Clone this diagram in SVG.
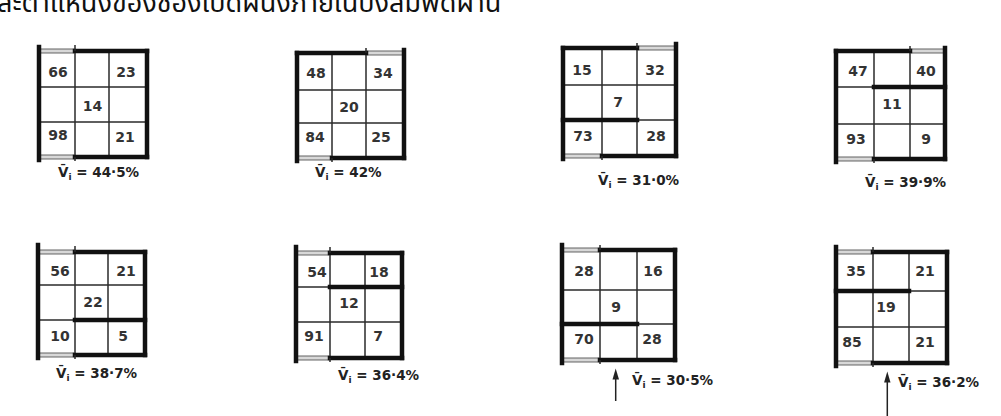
<svg xmlns="http://www.w3.org/2000/svg" width="1001" height="416" viewBox="0 0 1001 416">
<style>
.t{stroke:#2a2a2a;stroke-width:1.5;fill:none}
.k{stroke:#111;stroke-width:4.5;stroke-linecap:square;fill:none}
.w{fill:#d8d8d8;stroke:#555;stroke-width:0.9}
.n{font-family:"DejaVu Sans",sans-serif;font-size:14px;font-weight:bold;fill:#333;text-anchor:middle}
.l{font-family:"DejaVu Sans",sans-serif;font-size:13.5px;font-weight:bold;fill:#222}
.s{font-size:9px}
.hd{font-family:"Noto Sans Thai","Noto Sans","DejaVu Sans",sans-serif;font-size:27px;fill:#111}
</style>
<rect width="1001" height="416" fill="#fff"/>
<text class="hd" x="-3" y="12">ละตำแหน่งของช่องเปิดผนังภายในบังลมพัดผ่าน</text>

<g id="grid1">
<line class="t" x1="75" y1="51" x2="75" y2="157"/><line class="t" x1="109" y1="51" x2="109" y2="157"/>
<line class="t" x1="39" y1="87" x2="147" y2="87"/><line class="t" x1="39" y1="122" x2="147" y2="122"/>
<rect class="w" x="39" y="49" width="36" height="4"/><rect class="w" x="39" y="155" width="36" height="4"/>
<line class="k" x1="39" y1="47" x2="39" y2="160"/><line class="k" x1="147" y1="51" x2="147" y2="157"/>
<line class="k" x1="75" y1="51" x2="147" y2="51"/><line class="k" x1="75" y1="157" x2="147" y2="157"/>
<line class="t" x1="75" y1="45" x2="75" y2="51"/><line class="t" x1="75" y1="157" x2="75" y2="161"/>
<text class="n" x="58" y="77">66</text><text class="n" x="126" y="77">23</text><text class="n" x="92.5" y="111">14</text><text class="n" x="58" y="140">98</text><text class="n" x="125" y="142">21</text>
<text class="l" x="58" y="177">V̄<tspan class="s" dy="3">i</tspan><tspan dy="-3"> = 44·5%</tspan></text>
</g>

<g id="grid2">
<line class="t" x1="332" y1="53" x2="332" y2="158"/><line class="t" x1="366" y1="53" x2="366" y2="158"/>
<line class="t" x1="297" y1="90" x2="404" y2="90"/><line class="t" x1="297" y1="123" x2="404" y2="123"/>
<rect class="w" x="366" y="51" width="38" height="4"/><rect class="w" x="297" y="156" width="35" height="4"/>
<line class="k" x1="297" y1="53" x2="297" y2="161"/><line class="k" x1="404" y1="50" x2="404" y2="158"/>
<line class="k" x1="297" y1="53" x2="366" y2="53"/><line class="k" x1="332" y1="158" x2="404" y2="158"/>
<line class="t" x1="366" y1="48" x2="366" y2="53"/><line class="t" x1="332" y1="158" x2="332" y2="162"/>
<text class="n" x="316" y="78">48</text><text class="n" x="383" y="78">34</text><text class="n" x="349" y="112">20</text><text class="n" x="315" y="142">84</text><text class="n" x="381" y="142">25</text>
<text class="l" x="315" y="177">V̄<tspan class="s" dy="3">i</tspan><tspan dy="-3">  = 42%</tspan></text>
</g>

<g id="grid3">
<line class="t" x1="75" y1="252" x2="75" y2="355"/><line class="t" x1="108" y1="252" x2="108" y2="355"/>
<line class="t" x1="38" y1="285" x2="145" y2="285"/><line class="t" x1="38" y1="320" x2="145" y2="320"/>
<rect class="w" x="38" y="250" width="37" height="4"/><rect class="w" x="38" y="353" width="37" height="4"/>
<line class="k" x1="38" y1="245" x2="38" y2="358"/><line class="k" x1="145" y1="252" x2="145" y2="355"/>
<line class="k" x1="75" y1="252" x2="145" y2="252"/><line class="k" x1="75" y1="355" x2="145" y2="355"/>
<line class="k" x1="75" y1="320" x2="145" y2="320"/>
<line class="t" x1="75" y1="246" x2="75" y2="252"/><line class="t" x1="75" y1="355" x2="75" y2="359"/>
<text class="n" x="60" y="276">56</text><text class="n" x="126" y="276">21</text><text class="n" x="93" y="307">22</text><text class="n" x="60" y="341">10</text><text class="n" x="123" y="341">5</text>
<text class="l" x="56" y="378">V̄<tspan class="s" dy="3">i</tspan><tspan dy="-3">  =  38·7%</tspan></text>
</g>

<g id="grid4">
<line class="t" x1="330" y1="253" x2="330" y2="358"/><line class="t" x1="365" y1="253" x2="365" y2="358"/>
<line class="t" x1="296" y1="287" x2="402" y2="287"/><line class="t" x1="296" y1="322" x2="402" y2="322"/>
<rect class="w" x="296" y="251" width="34" height="4"/><rect class="w" x="296" y="356" width="34" height="4"/>
<line class="k" x1="296" y1="247" x2="296" y2="361"/><line class="k" x1="402" y1="253" x2="402" y2="358"/>
<line class="k" x1="330" y1="253" x2="402" y2="253"/><line class="k" x1="330" y1="358" x2="402" y2="358"/>
<line class="k" x1="330" y1="287" x2="402" y2="287"/>
<line class="t" x1="330" y1="247" x2="330" y2="253"/><line class="t" x1="330" y1="358" x2="330" y2="362"/>
<text class="n" x="317" y="277">54</text><text class="n" x="379" y="277">18</text><text class="n" x="349" y="308">12</text><text class="n" x="314" y="341">91</text><text class="n" x="378" y="341">7</text>
<text class="l" x="338" y="380">V̄<tspan class="s" dy="3">i</tspan><tspan dy="-3"> = 36·4%</tspan></text>
</g>

<g id="grid5">
<line class="t" x1="602" y1="48" x2="602" y2="156"/><line class="t" x1="637" y1="48" x2="637" y2="156"/>
<line class="t" x1="563" y1="85" x2="676" y2="85"/><line class="t" x1="563" y1="120" x2="676" y2="120"/>
<rect class="w" x="637" y="46" width="39" height="4"/><rect class="w" x="563" y="154" width="39" height="4"/>
<line class="k" x1="563" y1="48" x2="563" y2="159"/><line class="k" x1="676" y1="44" x2="676" y2="156"/>
<line class="k" x1="563" y1="48" x2="637" y2="48"/><line class="k" x1="602" y1="156" x2="676" y2="156"/>
<line class="k" x1="563" y1="120" x2="637" y2="120"/>
<line class="t" x1="637" y1="43" x2="637" y2="48"/><line class="t" x1="602" y1="156" x2="602" y2="160"/>
<text class="n" x="582" y="75">15</text><text class="n" x="655" y="75">32</text><text class="n" x="618" y="107">7</text><text class="n" x="583" y="141">73</text><text class="n" x="656" y="141">28</text>
<text class="l" x="598" y="185">V̄<tspan class="s" dy="3">i</tspan><tspan dy="-3"> = 31·0%</tspan></text>
</g>

<g id="grid6">
<line class="t" x1="874" y1="51" x2="874" y2="159"/><line class="t" x1="910" y1="51" x2="910" y2="159"/>
<line class="t" x1="836" y1="87" x2="945" y2="87"/><line class="t" x1="836" y1="124" x2="945" y2="124"/>
<rect class="w" x="910" y="49" width="35" height="4"/><rect class="w" x="836" y="157" width="38" height="4"/>
<line class="k" x1="836" y1="51" x2="836" y2="162"/><line class="k" x1="945" y1="48" x2="945" y2="159"/>
<line class="k" x1="836" y1="51" x2="910" y2="51"/><line class="k" x1="874" y1="159" x2="945" y2="159"/>
<line class="k" x1="874" y1="87" x2="945" y2="87"/>
<line class="t" x1="910" y1="46" x2="910" y2="51"/><line class="t" x1="874" y1="159" x2="874" y2="163"/>
<text class="n" x="858" y="76">47</text><text class="n" x="926" y="76">40</text><text class="n" x="892" y="109">11</text><text class="n" x="856" y="144">93</text><text class="n" x="926" y="144">9</text>
<text class="l" x="865" y="187">V̄<tspan class="s" dy="3">i</tspan><tspan dy="-3"> = 39·9%</tspan></text>
</g>

<g id="grid7">
<line class="t" x1="600" y1="250" x2="600" y2="360"/><line class="t" x1="637" y1="250" x2="637" y2="360"/>
<line class="t" x1="562" y1="290" x2="675" y2="290"/><line class="t" x1="562" y1="324" x2="675" y2="324"/>
<rect class="w" x="562" y="248" width="38" height="4"/><rect class="w" x="562" y="358" width="38" height="4"/>
<line class="k" x1="562" y1="245" x2="562" y2="363"/><line class="k" x1="675" y1="250" x2="675" y2="360"/>
<line class="k" x1="600" y1="250" x2="675" y2="250"/><line class="k" x1="600" y1="360" x2="675" y2="360"/>
<line class="k" x1="562" y1="324" x2="637" y2="324"/>
<line class="t" x1="600" y1="245" x2="600" y2="250"/><line class="t" x1="600" y1="360" x2="600" y2="364"/>
<text class="n" x="584" y="276">28</text><text class="n" x="653" y="276">16</text><text class="n" x="616" y="312">9</text><text class="n" x="584" y="344">70</text><text class="n" x="652" y="344">28</text>
<text class="l" x="632" y="385">V̄<tspan class="s" dy="3">i</tspan><tspan dy="-3"> = 30·5%</tspan></text>
</g>

<g id="grid8">
<line class="t" x1="873" y1="252" x2="873" y2="363"/><line class="t" x1="909" y1="252" x2="909" y2="363"/>
<line class="t" x1="836" y1="291" x2="947" y2="291"/><line class="t" x1="836" y1="327" x2="947" y2="327"/>
<rect class="w" x="836" y="250" width="37" height="4"/><rect class="w" x="836" y="361" width="37" height="4"/>
<line class="k" x1="836" y1="247" x2="836" y2="366"/><line class="k" x1="947" y1="252" x2="947" y2="363"/>
<line class="k" x1="873" y1="252" x2="947" y2="252"/><line class="k" x1="873" y1="363" x2="947" y2="363"/>
<line class="k" x1="836" y1="291" x2="909" y2="291"/>
<line class="t" x1="873" y1="247" x2="873" y2="252"/><line class="t" x1="873" y1="363" x2="873" y2="367"/>
<text class="n" x="856" y="276">35</text><text class="n" x="925" y="276">21</text><text class="n" x="886" y="312">19</text><text class="n" x="852" y="347">85</text><text class="n" x="925" y="347">21</text>
<text class="l" x="898" y="387">V̄<tspan class="s" dy="3">i</tspan><tspan dy="-3"> = 36·2%</tspan></text>
</g>

<g id="connectors">
<line x1="615.7" y1="401" x2="615.7" y2="376" stroke="#222" stroke-width="1.5"/>
<polygon points="615.7,368.5 612.5,379.5 619,379.5" fill="#222"/>
<line x1="887.3" y1="416" x2="887.3" y2="379" stroke="#222" stroke-width="1.5"/>
<polygon points="887.3,371.5 884.1,382.5 890.5,382.5" fill="#222"/>
</g>
</svg>
